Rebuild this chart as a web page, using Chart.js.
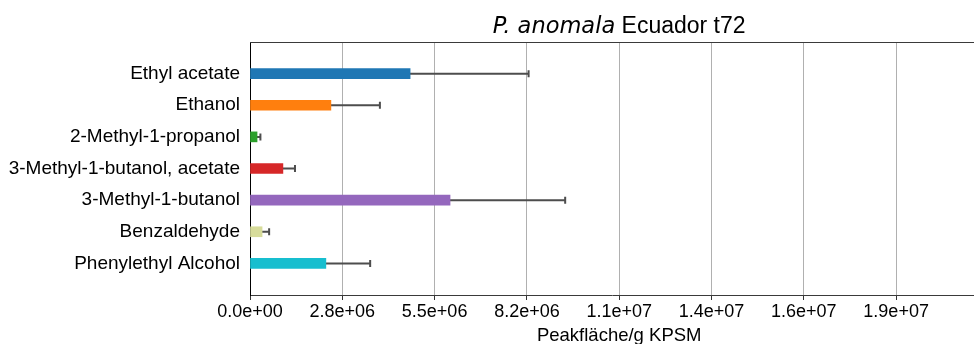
<!DOCTYPE html>
<html>
<head>
<meta charset="utf-8">
<script src="https://cdn.jsdelivr.net/npm/chart.js@4"></script>
<style>
  html, body { margin: 0; padding: 0; background: #ffffff; }
  #wrap { width: 974px; height: 344px; }
</style>
</head>
<body>
<div id="wrap"><canvas id="chart" width="974" height="344"></canvas></div>
<script>
// Volatile compounds, mean peak area per g with standard deviation
const categories = [
  'Ethyl acetate',
  'Ethanol',
  '2-Methyl-1-propanol',
  '3-Methyl-1-butanol, acetate',
  '3-Methyl-1-butanol',
  'Benzaldehyde',
  'Phenylethyl Alcohol'
];
const means  = [4.77e6, 2.41e6, 0.21e6, 0.98e6, 5.96e6, 0.36e6, 2.26e6];
const errors = [3.53e6, 1.46e6, 0.10e6, 0.36e6, 3.43e6, 0.21e6, 1.32e6];
const barColors = ['#1f77b4', '#ff7f0e', '#2ca02c', '#d62728', '#9467bd', '#d7dc9b', '#17becf'];

const tickValues = [0, 2.75e6, 5.5e6, 8.25e6, 1.1e7, 1.375e7, 1.65e7, 1.925e7];
const tickLabels = ['0.0e+00', '2.8e+06', '5.5e+06', '8.2e+06', '1.1e+07', '1.4e+07', '1.6e+07', '1.9e+07'];
const axisFullMax = 2.2e7;      // full axis extent (title is centred on it)
const axisVisibleMax = 2.157e7; // part of the axis that fits the canvas

const titleItalic = 'P. anomala';
const titleRest = ' Ecuador t72';
const xAxisTitle = 'Peakfläche/g KPSM';

// one empty slot above and below the bars
const paddedLabels = [''].concat(categories, ['']);
const paddedMeans = [null].concat(means, [null]);
const paddedColors = ['#000'].concat(barColors, ['#000']);

const errorBarPlugin = {
  id: 'errorBars',
  beforeDatasetsDraw(chart) {
    const ctx = chart.ctx;
    const xs = chart.scales.x, ys = chart.scales.y;
    const area = chart.chartArea;
    ctx.save();
    ctx.beginPath();
    ctx.rect(area.left, area.top, area.right - area.left, area.bottom - area.top);
    ctx.clip();
    ctx.strokeStyle = '#4d4d4d';
    ctx.lineWidth = 2;
    means.forEach((m, i) => {
      const y = ys.getPixelForValue(i + 1);
      const x0 = xs.getPixelForValue(Math.max(0, m - errors[i]));
      const x1 = xs.getPixelForValue(m + errors[i]);
      ctx.beginPath();
      ctx.moveTo(x0, y);
      ctx.lineTo(x1, y);
      ctx.moveTo(x1, y - 3.5);
      ctx.lineTo(x1, y + 3.5);
      ctx.stroke();
    });
    ctx.restore();
  },
  afterDraw(chart) {
    const ctx = chart.ctx;
    const xs = chart.scales.x;
    const area = chart.chartArea;
    const cx = xs.getPixelForValue(axisFullMax / 2);
    ctx.save();
    // top frame line
    ctx.strokeStyle = '#3a3a3a';
    ctx.lineWidth = 1;
    ctx.beginPath();
    ctx.moveTo(area.left, area.top + 0.5);
    ctx.lineTo(chart.width, area.top + 0.5);
    ctx.stroke();
    // title with italic species name
    ctx.fillStyle = '#000';
    ctx.textBaseline = 'alphabetic';
    ctx.textAlign = 'left';
    const fItal = 'italic 22.5px "DejaVu Sans"';
    const fReg = '23px "Liberation Sans"';
    ctx.font = fItal;
    const w1 = ctx.measureText(titleItalic).width;
    ctx.font = fReg;
    const w2 = ctx.measureText(titleRest).width;
    let x = cx - (w1 + w2) / 2;
    ctx.font = fItal;
    ctx.fillText(titleItalic, x, 32.5);
    ctx.font = fReg;
    ctx.fillText(titleRest, x + w1, 32.5);
    // x-axis title
    ctx.font = '18.5px "Liberation Sans"';
    ctx.textAlign = 'center';
    ctx.fillText(xAxisTitle, cx, 341);
    ctx.restore();
  }
};

new Chart(document.getElementById('chart'), {
  type: 'bar',
  data: {
    labels: paddedLabels,
    datasets: [{
      data: paddedMeans,
      backgroundColor: paddedColors,
      borderWidth: 0,
      barThickness: 10
    }]
  },
  options: {
    indexAxis: 'y',
    responsive: false,
    animation: false,
    layout: { padding: { top: 42, right: 0, left: 0, bottom: 0 } },
    plugins: {
      legend: { display: false },
      tooltip: { enabled: false },
      title: { display: false }
    },
    scales: {
      x: {
        type: 'linear',
        min: 0,
        max: axisVisibleMax,
        afterBuildTicks(scale) {
          scale.ticks = tickValues.map(v => ({ value: v }));
        },
        afterFit(scale) { scale.height = 49; },
        grid: {
          color: '#b0b0b0',
          lineWidth: 1,
          drawTicks: true,
          tickLength: 5,
          tickColor: '#333'
        },
        border: { display: true, color: '#3a3a3a', width: 1 },
        ticks: {
          autoSkip: false,
          maxRotation: 0,
          padding: 1,
          color: '#000',
          font: { family: '"Liberation Sans"', size: 18 },
          callback: (value, index) => tickLabels[index]
        }
      },
      y: {
        type: 'category',
        offset: false,
        afterFit(scale) { scale.width = 250; },
        grid: { display: false, drawTicks: false },
        border: { display: true, color: '#000', width: 1 },
        ticks: {
          autoSkip: false,
          padding: 10,
          color: '#000',
          font: { family: '"Liberation Sans"', size: 19 }
        }
      }
    }
  },
  plugins: [errorBarPlugin]
});
</script>
</body>
</html>
